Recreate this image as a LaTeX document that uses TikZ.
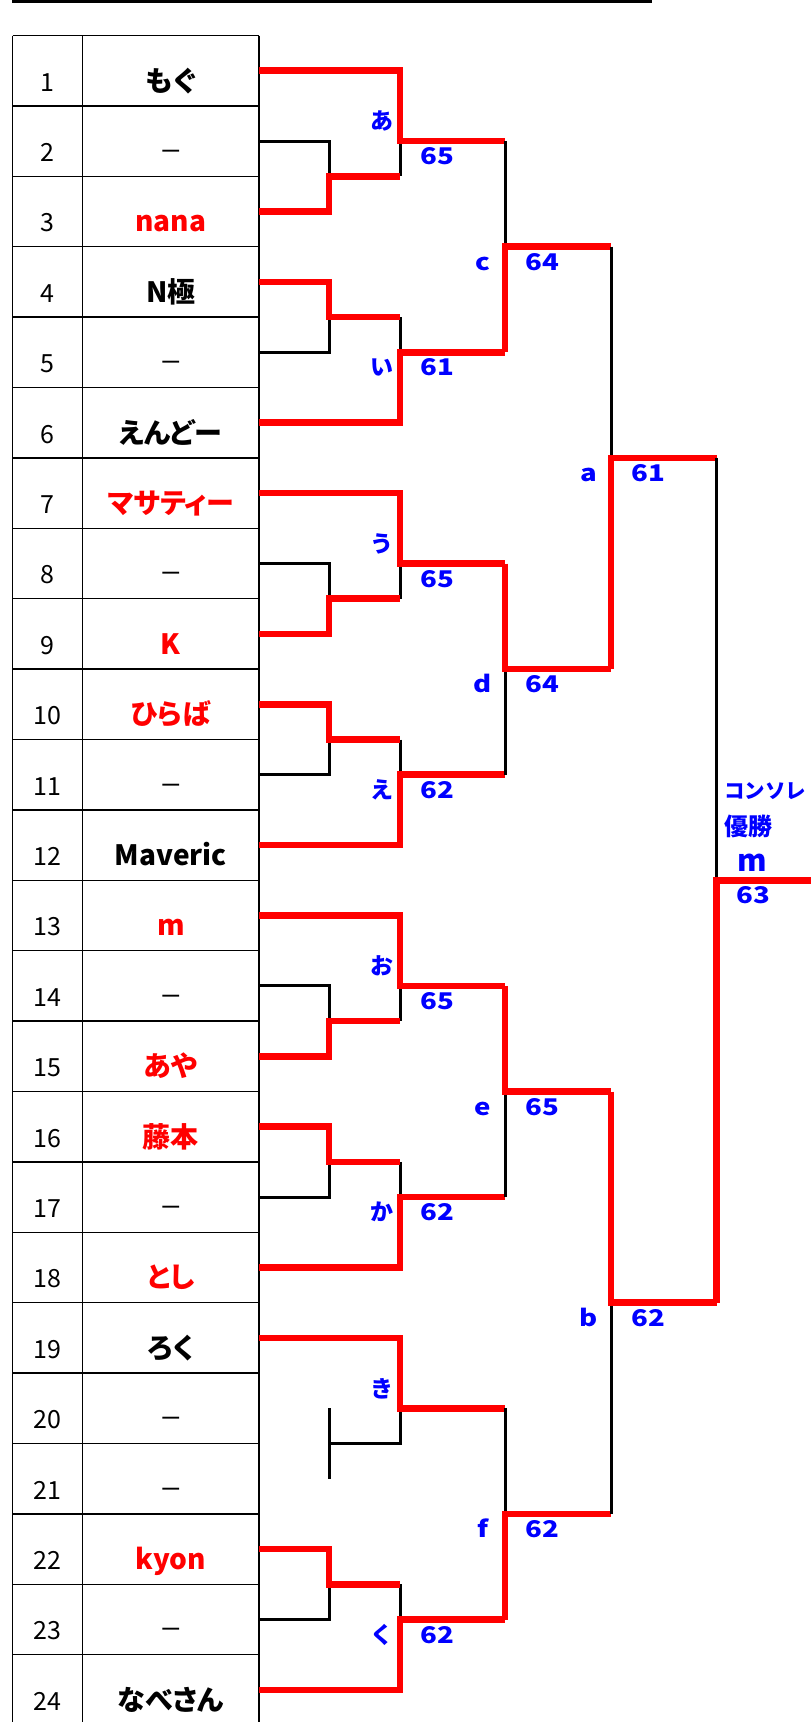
\documentclass[tikz,border=0pt]{standalone}
\usepackage{fontspec}
\newfontfamily\jp[RawFeature=+palt]{Noto Sans CJK JP}
\newfontfamily\jpn{Noto Sans CJK JP}
\newfontfamily\labf[FakeStretch=1.2]{Noto Sans CJK JP}
\newfontfamily\dshf[FakeStretch=1.25]{Noto Sans CJK JP}
\definecolor{myred}{RGB}{255,0,0}
\definecolor{myblue}{RGB}{0,0,255}
\def\XA{259}\def\XB{329}\def\XC{400}\def\XD{505}\def\XE{611}\def\XF{716.5}
\def\dsh{−}
\tikzset{
  redl/.style={draw=myred,line width=6.5pt,line join=miter},
  blkl/.style={draw=black,line width=3pt,line join=miter},
  grid/.style={draw=black,line width=1.4pt},
  nm/.style={anchor=base,inner sep=0pt,font=\jp\bfseries\fontsize{28}{30}\selectfont},
  num/.style={anchor=base,inner sep=0pt,font=\jpn\fontsize{25}{27}\selectfont},
  dashs/.style={anchor=base,inner sep=0pt,font=\dshf\fontsize{28}{30}\selectfont},
  lnum/.style={anchor=base west,inner sep=0pt,text=myblue,font=\labf\bfseries\fontsize{23}{25}\selectfont},
  llat/.style={anchor=base,inner sep=0pt,text=myblue,font=\labf\bfseries\fontsize{23}{25}\selectfont},
  lhir/.style={anchor=center,inner sep=0pt,text=myblue,font=\jpn\bfseries\fontsize{23}{25}\selectfont},
}
\newcommand\grpA[3]{%
  \draw[blkl] (\XA,{rc(#2)}) -| (\XB,{rb(#2)});
  \draw[blkl] (\XC,{rc(#2)}) -- (\XC,{rb(#2)});
  \draw[redl] (\XA,{rc(#3)}) -| (\XB,{rb(#2)}) -- (\XC,{rb(#2)});
  \draw[redl] (\XA,{rc(#1)}) -| (\XC,{rc(#2)}) -- (\XD,{rc(#2)});
}
\newcommand\grpB[3]{%
  \draw[blkl] (\XA,{rc(#2)}) -| (\XB,{rb(#1)});
  \draw[blkl] (\XC,{rb(#1)}) -- (\XC,{rc(#2)});
  \draw[redl] (\XA,{rc(#1)}) -| (\XB,{rb(#1)}) -- (\XC,{rb(#1)});
  \draw[redl] (\XA,{rc(#3)}) -| (\XC,{rc(#2)}) -- (\XD,{rc(#2)});
}
\begin{document}
\begin{tikzpicture}[x=1pt,y=-1pt,
  declare function={rc(\i)=0.3+70.4*\i; rb(\i)=35.5+70.4*\i;}]
\useasboundingbox (0,0) rectangle (811,1722);
% top rule
\draw[line width=2.5pt] (12,1.3) -- (652,1.3);
% table
\draw[grid] (12.5,35.5) -- (12.5,1722);
\draw[grid] (82.7,35.5) -- (82.7,1722);
\draw[grid] (259,35.5) -- (259,1722);
\foreach \i in {0,...,23} \draw[grid] (12.5,{rb(\i)}) -- (259,{rb(\i)});
\foreach \i/\t/\c in {1/もぐ/black,2/−/black,3/nana/myred,4/N極/black,5/−/black,6/えんどー/black,
  7/マサティー/myred,8/−/black,9/K/myred,10/ひらば/myred,11/−/black,12/Maveric/black,
  13/m/myred,14/−/black,15/あや/myred,16/藤本/myred,17/−/black,18/とし/myred,
  19/ろく/black,20/−/black,21/−/black,22/kyon/myred,23/−/black,24/なべさん/black}{
  \node[num] (p\i) at (47.5,{rb(\i)-14.8}) {\i};
  \ifx\t\dsh
    \node[dashs] (n\i) at (170.8,{rb(\i)-14.8}) {−};
  \else
    \node[nm,text=\c] (n\i) at (170.8,{rb(\i)-14.8}) {\t};
  \fi
}
% first round groups
\grpA{1}{2}{3}
\grpB{4}{5}{6}
\grpA{7}{8}{9}
\grpB{10}{11}{12}
\grpA{13}{14}{15}
\grpB{16}{17}{18}
% group ki (rows 19-21)
\draw[blkl] (\XB,{rc(20)}) -- (\XB,{rc(21)});
\draw[blkl] (\XB,{rb(20)}) -| (\XC,{rc(20)});
\draw[redl] (\XA,{rc(19)}) -| (\XC,{rc(20)}) -- (\XD,{rc(20)});
\grpB{22}{23}{24}
% third column
\draw[blkl] (\XD,{rc(2)}) -- (\XD,{rb(3)});
\draw[redl] (\XD,{rc(5)}) -- (\XD,{rb(3)}) -- (\XE,{rb(3)});
\draw[blkl] (\XD,{rb(9)}) -- (\XD,{rc(11)});
\draw[redl] (\XD,{rc(8)}) -- (\XD,{rb(9)}) -- (\XE,{rb(9)});
\draw[blkl] (\XD,{rb(15)}) -- (\XD,{rc(17)});
\draw[redl] (\XD,{rc(14)}) -- (\XD,{rb(15)}) -- (\XE,{rb(15)});
\draw[blkl] (\XD,{rc(20)}) -- (\XD,{rb(21)});
\draw[redl] (\XD,{rc(23)}) -- (\XD,{rb(21)}) -- (\XE,{rb(21)});
% fourth column
\draw[blkl] (\XE,{rb(3)}) -- (\XE,{rb(6)});
\draw[redl] (\XE,{rb(9)}) -- (\XE,{rb(6)}) -- (\XF,{rb(6)});
\draw[blkl] (\XE,{rb(18)}) -- (\XE,{rb(21)});
\draw[redl] (\XE,{rb(15)}) -- (\XE,{rb(18)}) -- (\XF,{rb(18)});
% final
\draw[blkl] (\XF,{rb(6)}) -- (\XF,{rb(12)});
\draw[redl] (\XF,{rb(18)}) -- (\XF,{rb(12)}) -- (811,{rb(12)});
% second-column labels
\node[lhir] (la) at (\XC-18.5,{rc(2)-20}) {あ};
\node[lhir] (li) at (\XC-18.5,{rc(5)+15}) {い};
\node[lhir] (lu) at (\XC-18.5,{rc(8)-20}) {う};
\node[lhir] (le) at (\XC-18.5,{rc(11)+15}) {え};
\node[lhir] (lo) at (\XC-18.5,{rc(14)-20}) {お};
\node[lhir] (lk) at (\XC-18.5,{rc(17)+15}) {か};
\node[lhir] (lki) at (\XC-18.5,{rc(20)-20}) {き};
\node[lhir] (lku) at (\XC-18.5,{rc(23)+15}) {く};
\node[lnum] (sa) at (\XC+20,{rc(2)+23.5}) {65};
\node[lnum] (si) at (\XC+20,{rc(5)+23.5}) {61};
\node[lnum] (su) at (\XC+20,{rc(8)+23.5}) {65};
\node[lnum] (se) at (\XC+20,{rc(11)+23.5}) {62};
\node[lnum] (so) at (\XC+20,{rc(14)+23.5}) {65};
\node[lnum] (sk) at (\XC+20,{rc(17)+23.5}) {62};
\node[lnum] (sku) at (\XC+20,{rc(23)+23.5}) {62};
% third-column labels
\node[llat] (lc) at (\XD-22.5,{rb(3)+23.5}) {c};
\node[llat] (ld) at (\XD-22.5,{rb(9)+23.5}) {d};
\node[llat] (lee) at (\XD-22.5,{rb(15)+23.5}) {e};
\node[llat] (lf) at (\XD-22.5,{rb(21)+23.5}) {f};
\node[lnum] (sc) at (\XD+20,{rb(3)+23.5}) {64};
\node[lnum] (sd) at (\XD+20,{rb(9)+23.5}) {64};
\node[lnum] (see) at (\XD+20,{rb(15)+23.5}) {65};
\node[lnum] (sf) at (\XD+20,{rb(21)+23.5}) {62};
% fourth-column labels
\node[llat] (laa) at (\XE-22.5,{rb(6)+23.5}) {a};
\node[llat] (lb) at (\XE-22.5,{rb(18)+23.5}) {b};
\node[lnum] (saa) at (\XE+20,{rb(6)+23.5}) {61};
\node[lnum] (sb) at (\XE+20,{rb(18)+23.5}) {62};
% final labels
\node[anchor=base west,inner sep=0pt,text=myblue,font=\jpn\bfseries\fontsize{20.5}{22}\selectfont] (cons) at (724,798) {コンソレ};
\node[anchor=base west,inner sep=0pt,text=myblue,font=\jpn\bfseries\fontsize{24}{26}\selectfont] (yus) at (724,835) {優勝};
\node[anchor=base,inner sep=0pt,text=myblue,font=\jpn\bfseries\fontsize{30}{32}\selectfont] (win) at (752.5,871.7) {m};
\node[lnum] (sfin) at (\XF+20,{rb(12)+23.5}) {63};
\end{tikzpicture}
\end{document}
